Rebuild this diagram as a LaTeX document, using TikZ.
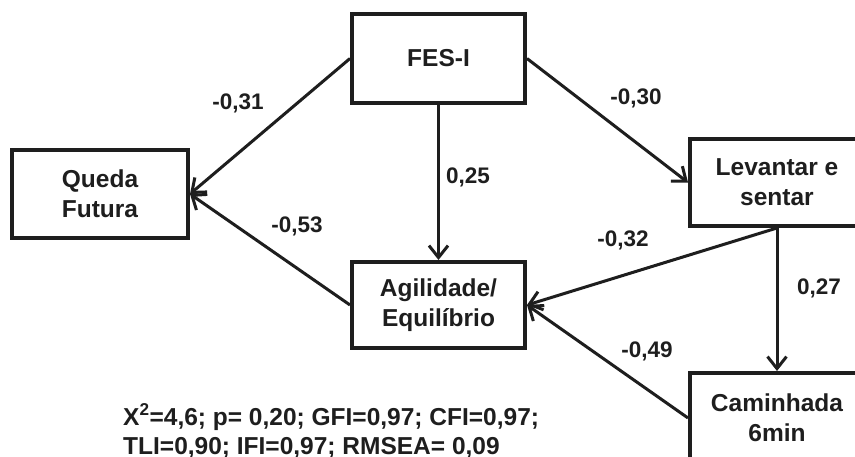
\documentclass[tikz,border=0pt]{standalone}
\usepackage{fontspec}
\setmainfont{Liberation Sans}
\usetikzlibrary{arrows.meta}
\definecolor{ink}{HTML}{1E1E1E}
\tikzset{
  box/.style={draw=ink, line width=4pt, rectangle, align=center, text=ink,
    font=\fontsize{24.5}{30}\selectfont\bfseries, inner sep=0pt},
  conn/.style={draw=ink, line width=3pt, -{Straight Barb[length=12pt,width=19pt,line width=3pt]}},
  coef/.style={text=ink, font=\fontsize{22.5}{26}\selectfont\bfseries, inner sep=0pt},
  fitline/.style={text=ink, font=\fontsize{24.5}{30}\selectfont\bfseries, inner sep=0pt, anchor=base west}
}
\begin{document}
\begin{tikzpicture}[x=1pt,y=-1pt]
\useasboundingbox (0,0) rectangle (855,457);
\fill[white] (0,0) rectangle (855,457);
\begin{scope}
\clip (0,0) rectangle (855,457);
\node[box, minimum width=173pt, minimum height=89pt] (fes) at (438.5,58.5) {FES-I};
\node[box, minimum width=176pt, minimum height=88pt] (queda) at (100,194) {Queda\\Futura};
\node[box, minimum width=174pt, minimum height=87pt] (lev) at (777,182.5) {Levantar e\\sentar};
\node[box, minimum width=173pt, minimum height=86pt] (agil) at (438.5,305) {Agilidade/\\Equilíbrio};
\node[box, minimum width=174pt, minimum height=90pt] (cam) at (777,418) {Caminhada\\6min};

\draw[conn] (fes.west) -- (queda.east);
\draw[conn] (fes.south) -- (agil.north);
\draw[conn] (fes.east) -- (lev.west);
\draw[conn] (agil.west) -- (queda.east);
\draw[conn] (lev.south) -- (agil.east);
\draw[conn] (lev.south) -- (cam.north);
\draw[conn] (cam.west) -- (agil.east);

\node[coef] (c1) at (238,103) {-0,31};
\node[coef] (c2) at (468,177) {0,25};
\node[coef] (c3) at (636,98) {-0,30};
\node[coef] (c4) at (297,226) {-0,53};
\node[coef] (c5) at (623,240) {-0,32};
\node[coef] (c6) at (819,288) {0,27};
\node[coef] (c7) at (647,351) {-0,49};

\node[fitline] (fit1) at (123,425) {X\textsuperscript{2}=4,6; p= 0,20; GFI=0,97; CFI=0,97;};
\node[fitline] (fit2) at (123,454) {TLI=0,90; IFI=0,97; RMSEA= 0,09};
\end{scope}
\end{tikzpicture}
\end{document}
